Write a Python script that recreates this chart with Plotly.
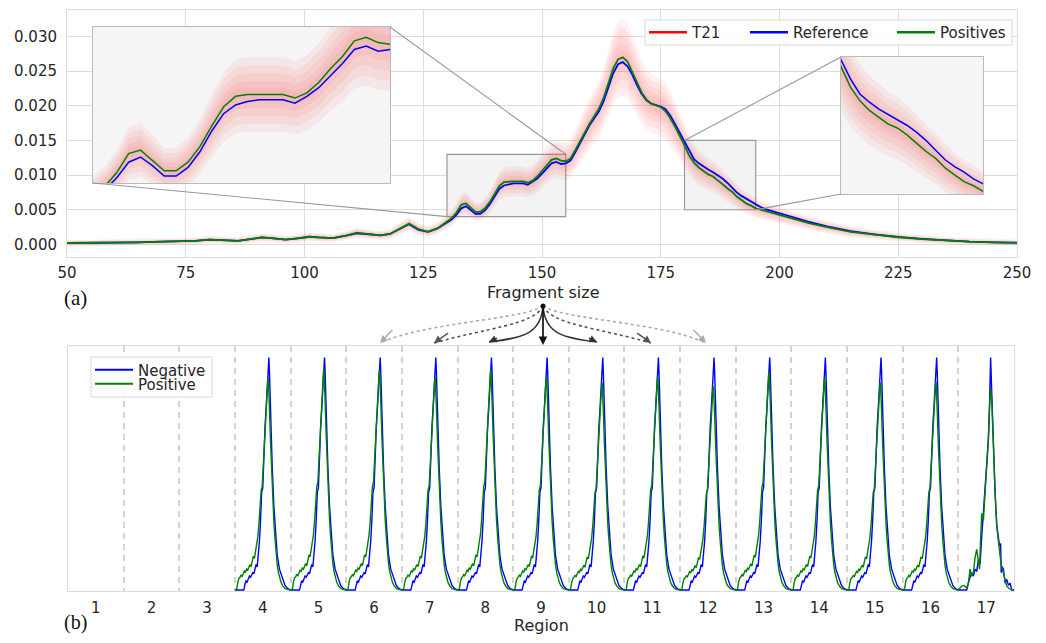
import plotly.graph_objects as go

W, H = 1046, 643          # browser window
OFF = 8                   # default page (body) margin around the figure
WF, HF = W - 2 * OFF, H - 2 * OFF

# ---------------- Panel (a): fragment size distributions ----------------
sizes = ([50, 55, 60, 65, 70, 74, 77, 80, 83, 86, 89, 91, 93, 96, 99, 101, 103, 106, 109, 111,
          113, 116, 118, 120, 122, 124, 126, 128]
         + list(range(129, 201))
         + [203, 206, 210, 215, 220, 225, 230, 235, 240, 245, 250])

reference = [0.0002, 0.0002, 0.0003, 0.0003, 0.0004, 0.0004, 0.0005, 0.0007, 0.0006, 0.0005,
             0.0008, 0.0010, 0.0009, 0.0007, 0.0009, 0.0011, 0.0010, 0.0009, 0.0013, 0.0016,
             0.0015, 0.0013, 0.0015, 0.0022, 0.0029, 0.0021, 0.0018, 0.0023,
             # 129 - 200
             0.0027, 0.0031, 0.0036, 0.0043, 0.0052, 0.0055, 0.0050, 0.0044, 0.0044, 0.0049,
             0.0058, 0.0070, 0.0080, 0.0085, 0.0087, 0.0088, 0.0088, 0.0088, 0.0086, 0.0090,
             0.0095, 0.0102, 0.0109, 0.0117, 0.0119, 0.0116, 0.0117, 0.0121, 0.0133, 0.0146,
             0.0160, 0.0172, 0.0182, 0.0192, 0.0207, 0.0227, 0.0247, 0.0260, 0.0263, 0.0257,
             0.0245, 0.0230, 0.0217, 0.0208, 0.0203, 0.0201, 0.0199, 0.0195, 0.0186, 0.0174,
             0.0161, 0.0148, 0.0134, 0.0123, 0.0117, 0.0112, 0.0108, 0.0104, 0.0100, 0.0095,
             0.0089, 0.0082, 0.0075, 0.0070, 0.0066, 0.0061, 0.0057, 0.0054, 0.0051, 0.0049,
             0.0046, 0.0044,
             # tail
             0.0038, 0.0033, 0.0026, 0.0019, 0.00145, 0.00107, 0.0008, 0.00055, 0.0004, 0.0003,
             0.00024]

positives = [0.0002, 0.0002, 0.0003, 0.0003, 0.0004, 0.0004, 0.0005, 0.0007, 0.0006, 0.0005,
             0.0008, 0.0010, 0.0009, 0.0007, 0.0009, 0.0011, 0.0010, 0.0009, 0.0013, 0.0017,
             0.0015, 0.0013, 0.0015, 0.0022, 0.0030, 0.0022, 0.0018, 0.0023,
             # 129 - 200
             0.0028, 0.0033, 0.0038, 0.0046, 0.0057, 0.0059, 0.0053, 0.0047, 0.0047, 0.0052,
             0.0061, 0.0073, 0.0084, 0.0090, 0.0091, 0.0091, 0.0091, 0.0091, 0.0089, 0.0092,
             0.0098, 0.0106, 0.0113, 0.0122, 0.0124, 0.0121, 0.0120, 0.0124, 0.0136, 0.0149,
             0.0163, 0.0174, 0.0185, 0.0196, 0.0212, 0.0233, 0.0254, 0.0267, 0.0270, 0.0264,
             0.0250, 0.0234, 0.0219, 0.0209, 0.0203, 0.0200, 0.0198, 0.0192, 0.0182, 0.0170,
             0.0157, 0.0143, 0.0128, 0.0118, 0.0111, 0.0106, 0.0101, 0.0098, 0.0093, 0.0087,
             0.0081, 0.0076, 0.0069, 0.0064, 0.0059, 0.0056, 0.0052, 0.0050, 0.0048, 0.0046,
             0.0044, 0.0042,
             # tail
             0.0036, 0.0031, 0.0025, 0.0018, 0.0014, 0.00103, 0.00077, 0.00053, 0.00039, 0.00029,
             0.00023]

# T21 cohort spread around the mean (relative, absolute), read from the faint red cloud
t21_spread_rel = [0.19, 0.15, 0.11, 0.07, 0.035]
t21_spread_abs = [0.00042, 0.00032, 0.00022, 0.00014, 0.00007]

# zoom windows (x range, y range)
zoom_left = ([130, 155], [0.004, 0.013])
zoom_right = ([180, 195], [0.005, 0.015])

# ---------------- Panel (b): per-region profiles ----------------
regions = list(range(1, 18))
regions_with_data = list(range(4, 17))
neg_u = [0.00, 0.16, 0.18, 0.20, 0.22, 0.24, 0.26, 0.28, 0.30, 0.32, 0.34, 0.36, 0.38, 0.40,
         0.42, 0.44, 0.46, 0.48, 0.50, 0.52, 0.54, 0.56, 0.58, 0.60, 0.61, 0.62, 0.63, 0.64,
         0.65, 0.67, 0.70, 0.73, 0.76, 0.80, 0.85, 0.90, 0.95, 1.00]
neg_v = [0.0, 0.0, 0.025, 0.04, 0.035, 0.05, 0.06, 0.055, 0.07, 0.075, 0.07, 0.095, 0.11, 0.10,
         0.15, 0.21, 0.30, 0.42, 0.44, 0.60, 0.70, 0.78, 0.86, 0.95, 1.0, 0.94, 0.85, 0.78,
         0.70, 0.53, 0.36, 0.24, 0.15, 0.09, 0.05, 0.02, 0.006, 0.0]
pos_u = [0.00, 0.03, 0.05, 0.07, 0.09, 0.11, 0.13, 0.15, 0.17, 0.19, 0.21, 0.23, 0.25, 0.27,
         0.29, 0.31, 0.33, 0.35, 0.37, 0.39, 0.41, 0.43, 0.45, 0.47, 0.49, 0.51, 0.53, 0.55,
         0.57, 0.59, 0.60, 0.61, 0.62, 0.64, 0.66, 0.68, 0.70, 0.72, 0.74, 0.76, 0.78, 0.80,
         0.83, 0.86, 0.90, 0.95, 1.00]
pos_v = [0.0, 0.0, 0.035, 0.055, 0.06, 0.07, 0.065, 0.075, 0.09, 0.085, 0.10, 0.095, 0.11, 0.12,
         0.11, 0.14, 0.16, 0.15, 0.18, 0.21, 0.25, 0.31, 0.40, 0.47, 0.49, 0.60, 0.72, 0.83,
         0.93, 0.99, 1.0, 0.95, 0.86, 0.70, 0.55, 0.42, 0.32, 0.24, 0.17, 0.12, 0.085, 0.06,
         0.035, 0.02, 0.008, 0.002, 0.0]
pos_peak = [0.91, 0.948, 0.948, 0.914, 0.948, 0.918, 0.893, 0.918, 0.876, 0.94, 0.914, 0.893, 0.897]
# region 17 (noisier)
r17_neg_u = [0.00, 0.15, 0.19, 0.24, 0.27, 0.30, 0.33, 0.36, 0.39, 0.42, 0.45, 0.49, 0.52, 0.54,
             0.56, 0.58, 0.60, 0.63, 0.66, 0.69, 0.72, 0.74, 0.76, 0.77, 0.79, 0.81, 0.84, 0.87,
             0.90, 0.93, 0.96, 1.00]
r17_neg_v = [0.0, 0.0, 0.04, 0.075, 0.06, 0.09, 0.08, 0.13, 0.11, 0.23, 0.33, 0.48, 0.56, 0.65,
             0.80, 1.0, 0.85, 0.62, 0.42, 0.28, 0.21, 0.19, 0.20, 0.075, 0.10, 0.09, 0.03, 0.046,
             0.02, 0.03, 0.0, 0.0]
r17_pos_u = [0.00, 0.06, 0.10, 0.15, 0.18, 0.21, 0.24, 0.27, 0.30, 0.33, 0.36, 0.38, 0.40, 0.42,
             0.45, 0.48, 0.51, 0.54, 0.56, 0.58, 0.60, 0.63, 0.66, 0.69, 0.72, 0.75, 0.78, 0.81,
             0.84, 0.87, 0.92, 1.00]
r17_pos_v = [0.0, 0.017, 0.02, 0.01, 0.03, 0.09, 0.06, 0.075, 0.14, 0.175, 0.12, 0.09, 0.22, 0.33,
             0.30, 0.42, 0.50, 0.65, 0.78, 0.87, 0.82, 0.59, 0.42, 0.275, 0.20, 0.146, 0.10, 0.075,
             0.04, 0.017, 0.005, 0.0]

# ---------------- styling ----------------
RED, BLUE, GREEN = "#ff0000", "#0000ff", "#008000"
GRID = "#dddddd"
TXT = "#262626"
FONT = "DejaVu Sans"


def P(px, py):
    """window pixel -> paper fraction"""
    return (px - OFF) / WF, 1 - (py - OFF) / HF


# layout geometry (window pixels)
A_X = (67, 1017)
A_Y = (9.5, 256.5)
B_X = (68, 1014)
B_Y = (346, 591)
L_X, L_Y = (93, 390), (27, 183)
R_X, R_Y = (841, 983), (57, 194)
A_RANGE_X = [50, 250]
A_RANGE_Y = [-0.00175, 0.0339]


def dom_x(p):
    return [P(p[0], 0)[0], P(p[1], 0)[0]]


def dom_y(p):
    return [P(0, p[1])[1], P(0, p[0])[1]]


fig = go.Figure()


def add_a_series(xa, ya, lw):
    for rel, ab in zip(t21_spread_rel, t21_spread_abs):
        lo = [v * (1 - rel) - ab for v in positives]
        hi = [v * (1 + rel) + ab for v in positives]
        fig.add_trace(go.Scatter(x=sizes, y=lo, mode="lines", line=dict(width=0),
                                 showlegend=False, hoverinfo="skip", xaxis=xa, yaxis=ya))
        fig.add_trace(go.Scatter(x=sizes, y=hi, mode="lines", line=dict(width=0),
                                 fill="tonexty", fillcolor="rgba(255,40,40,0.065)",
                                 showlegend=False, hoverinfo="skip", xaxis=xa, yaxis=ya))
    fig.add_trace(go.Scatter(x=sizes, y=reference, mode="lines", name="Reference",
                             line=dict(color=BLUE, width=lw), showlegend=False,
                             xaxis=xa, yaxis=ya))
    fig.add_trace(go.Scatter(x=sizes, y=positives, mode="lines", name="Positives",
                             line=dict(color=GREEN, width=lw), showlegend=False,
                             xaxis=xa, yaxis=ya))


add_a_series("x", "y", 1.8)
add_a_series("x3", "y3", 1.5)
add_a_series("x4", "y4", 1.5)

# ---------------- panel (b) series ----------------
neg_x, neg_y, posb_x, posb_y = [], [], [], []
for r, pk in zip(regions_with_data, pos_peak):
    neg_x += [r - 0.5 + u for u in neg_u]
    neg_y += list(neg_v)
    posb_x += [r - 0.5 + u for u in pos_u]
    posb_y += [v * pk for v in pos_v]
neg_x += [17 - 0.5 + u for u in r17_neg_u]
neg_y += list(r17_neg_v)
posb_x += [17 - 0.5 + u for u in r17_pos_u]
posb_y += list(r17_pos_v)

fig.add_trace(go.Scatter(x=neg_x, y=neg_y, mode="lines", name="Negative",
                         line=dict(color=BLUE, width=1.4), xaxis="x2", yaxis="y2",
                         showlegend=False))
fig.add_trace(go.Scatter(x=posb_x, y=posb_y, mode="lines", name="Positive",
                         line=dict(color=GREEN, width=1.4), xaxis="x2", yaxis="y2",
                         showlegend=False))

# ---------------- legend entries (one legend per entry, placed like the reference) -------
legend_items = [
    # name, colour, legend id, line-start pixel x, row-centre pixel y, line width, axes
    ("T21", RED, "legend", 650, 32.5, 2.6, ("x", "y")),
    ("Reference", BLUE, "legend3", 751, 32.5, 2.6, ("x", "y")),
    ("Positives", GREEN, "legend4", 898, 32.5, 2.6, ("x", "y")),
    ("Negative", BLUE, "legend2", 96, 370, 2.2, ("x2", "y2")),
    ("Positive", GREEN, "legend5", 96, 384, 2.2, ("x2", "y2")),
]
legend_layout = {}
for name, col, lid, lpx, cpy, lw, (xa, ya) in legend_items:
    fig.add_trace(go.Scatter(x=[None], y=[None], mode="lines", name=name,
                             line=dict(color=col, width=lw), xaxis=xa, yaxis=ya,
                             legend=lid, showlegend=True))
    lx, ly = P(lpx - 6, cpy - 16.5)
    legend_layout[lid] = dict(x=lx, y=ly, xanchor="left", yanchor="top",
                              bgcolor="rgba(0,0,0,0)", borderwidth=0, itemwidth=38,
                              font=dict(family=FONT, size=15, color=TXT))

# ---------------- axes ----------------
tickfont = dict(family=FONT, size=15, color=TXT)
plain = dict(showticklabels=False, showgrid=False, zeroline=False, showline=True, mirror=True,
             linecolor="#bbbbbb", automargin=False)
fig.update_layout(
    xaxis=dict(domain=dom_x(A_X), range=A_RANGE_X, anchor="y", tickmode="linear", tick0=50,
               dtick=25, showgrid=True, gridcolor=GRID, gridwidth=1, zeroline=False,
               showline=True, mirror=True, linecolor=GRID, ticks="outside", ticklen=2,
               tickcolor="rgba(0,0,0,0)", tickfont=tickfont, automargin=False),
    yaxis=dict(domain=dom_y(A_Y), range=A_RANGE_Y, anchor="x", tickmode="linear", tick0=0,
               dtick=0.005, tickformat=".3f", showgrid=True, gridcolor=GRID, zeroline=False,
               showline=True, mirror=True, linecolor=GRID, ticks="outside", ticklen=6,
               tickcolor="rgba(0,0,0,0)", tickfont=tickfont, automargin=False),
    xaxis2=dict(domain=dom_x(B_X), range=[0.5, 17.5], anchor="y2", tickmode="array",
                tickvals=regions, ticktext=[str(r) for r in regions], showgrid=False,
                zeroline=False, showline=True, mirror=True, linecolor=GRID, ticks="outside",
                ticklen=3, tickcolor="rgba(0,0,0,0)", tickfont=tickfont, automargin=False,
                minor=dict(tickvals=[r + 0.5 for r in regions[:-1]], showgrid=True,
                           gridcolor="#d3d3d3", gridwidth=1.5, griddash="6px,5px", ticks="")),
    yaxis2=dict(domain=dom_y(B_Y), range=[-0.004, 1.05], anchor="x2", showticklabels=False,
                showgrid=False, zeroline=False, showline=True, mirror=True, linecolor=GRID,
                automargin=False),
    xaxis3=dict(domain=dom_x(L_X), range=zoom_left[0], anchor="y3", **plain),
    yaxis3=dict(domain=dom_y(L_Y), range=zoom_left[1], anchor="x3", **plain),
    xaxis4=dict(domain=dom_x(R_X), range=zoom_right[0], anchor="y4", **plain),
    yaxis4=dict(domain=dom_y(R_Y), range=zoom_right[1], anchor="x4", **plain),
)


# ---------------- shapes: zoom boxes, inset backgrounds, connectors ----------------
def main_to_paper(xv, yv):
    fx = (xv - A_RANGE_X[0]) / (A_RANGE_X[1] - A_RANGE_X[0])
    fy = (yv - A_RANGE_Y[0]) / (A_RANGE_Y[1] - A_RANGE_Y[0])
    dx, dy = dom_x(A_X), dom_y(A_Y)
    return dx[0] + fx * (dx[1] - dx[0]), dy[0] + fy * (dy[1] - dy[0])


shapes = []
for (xr, yr), xa, ya in [(zoom_left, "x3", "y3"), (zoom_right, "x4", "y4")]:
    shapes.append(dict(type="rect", xref="x", yref="y", x0=xr[0], x1=xr[1], y0=yr[0], y1=yr[1],
                       fillcolor="#f3f3f3", line=dict(color="#999999", width=1.2), layer="between"))
    shapes.append(dict(type="rect", xref=xa, yref=ya, x0=xr[0], x1=xr[1], y0=yr[0], y1=yr[1],
                       fillcolor="#f5f5f5", line=dict(width=0), layer="below"))

conn = [
    (P(L_X[0], L_Y[1]), main_to_paper(zoom_left[0][0], zoom_left[1][0])),
    (P(L_X[1], L_Y[0]), main_to_paper(zoom_left[0][1], zoom_left[1][1])),
    (P(R_X[0], R_Y[0]), main_to_paper(zoom_right[0][0], zoom_right[1][1])),
    (P(R_X[0], R_Y[1]), main_to_paper(zoom_right[0][1], zoom_right[1][0])),
]
for (a, b) in conn:
    shapes.append(dict(type="line", xref="paper", yref="paper", x0=a[0], y0=a[1], x1=b[0], y1=b[1],
                       line=dict(color="#999999", width=1.1), layer="above"))

# legend frames
for (x0p, y0p, x1p, y1p), fill in [((645, 20, 1012, 45), "rgba(255,255,255,0.85)"),
                                   ((91, 357, 212, 397), "rgba(255,255,255,0.9)")]:
    a, b = P(x0p, y1p), P(x1p, y0p)
    shapes.append(dict(type="rect", xref="paper", yref="paper", x0=a[0], y0=a[1], x1=b[0], y1=b[1],
                       fillcolor=fill, line=dict(color="#d8d8d8", width=1), layer="above"))

# ---------------- arrows from "Fragment size" to regions ----------------
O = (543, 306)
arrow_specs = [
    # (ctrl1, ctrl2, end, color, dash)
    ((545, 335), (565, 338), (597, 342), "#333333", "solid"),
    ((541, 335), (521, 338), (489, 342), "#333333", "solid"),
    ((552, 325), (600, 328), (651, 343), "#555555", "dot"),
    ((534, 325), (486, 328), (434, 343), "#555555", "dot"),
    ((565, 320), (660, 322), (706, 343), "#aaaaaa", "dot"),
    ((521, 320), (426, 322), (380, 343), "#aaaaaa", "dot"),
]
annotations = []
for c1, c2, e, col, dash in arrow_specs:
    pts = [P(*O), P(*c1), P(*c2), P(*e)]
    path = "M {:.5f},{:.5f} C {:.5f},{:.5f} {:.5f},{:.5f} {:.5f},{:.5f}".format(
        *[v for p in pts for v in p])
    shapes.append(dict(type="path", xref="paper", yref="paper", path=path,
                       line=dict(color=col, width=1.6, dash=dash), layer="above"))
    ex, ey = P(*e)
    annotations.append(dict(x=ex, y=ey, xref="paper", yref="paper", text="", showarrow=True,
                            arrowhead=2, arrowsize=1, arrowwidth=1.5, arrowcolor=col,
                            ax=(c2[0] - e[0]) * 0.3, ay=(c2[1] - e[1]) * 0.6 - 2))
cx, cy = P(543, 345)
annotations.append(dict(x=cx, y=cy, xref="paper", yref="paper", text="", showarrow=True,
                        arrowhead=2, arrowsize=1, arrowwidth=1.7, arrowcolor="#111111",
                        ax=0, ay=-(345 - O[1])))
d0, d1 = P(540.5, 303.5), P(545.5, 308.5)
shapes.append(dict(type="circle", xref="paper", yref="paper", x0=d0[0], x1=d1[0], y0=d1[1], y1=d0[1],
                   fillcolor="#111111", line=dict(width=0), layer="above"))

# ---------------- text labels ----------------
for txt, (px, py), fnt in [
    ("Fragment size", (543, 292), dict(family=FONT, size=16, color=TXT)),
    ("Region", (541, 625), dict(family=FONT, size=16, color=TXT)),
    ("(a)", (75, 298), dict(family="Liberation Serif", size=21, color="#111111")),
    ("(b)", (75, 622), dict(family="Liberation Serif", size=20, color="#111111")),
]:
    x, y = P(px, py)
    annotations.append(dict(x=x, y=y, xref="paper", yref="paper", text=txt, showarrow=False,
                            font=fnt, xanchor="center", yanchor="middle"))

fig.update_layout(
    width=WF, height=HF, autosize=False, margin=dict(l=0, r=0, t=0, b=0, pad=0),
    paper_bgcolor="white", plot_bgcolor="white",
    font=dict(family=FONT, color=TXT),
    shapes=shapes, annotations=annotations,
    showlegend=True,
    **legend_layout,
)

fig.write_html("out.html")
